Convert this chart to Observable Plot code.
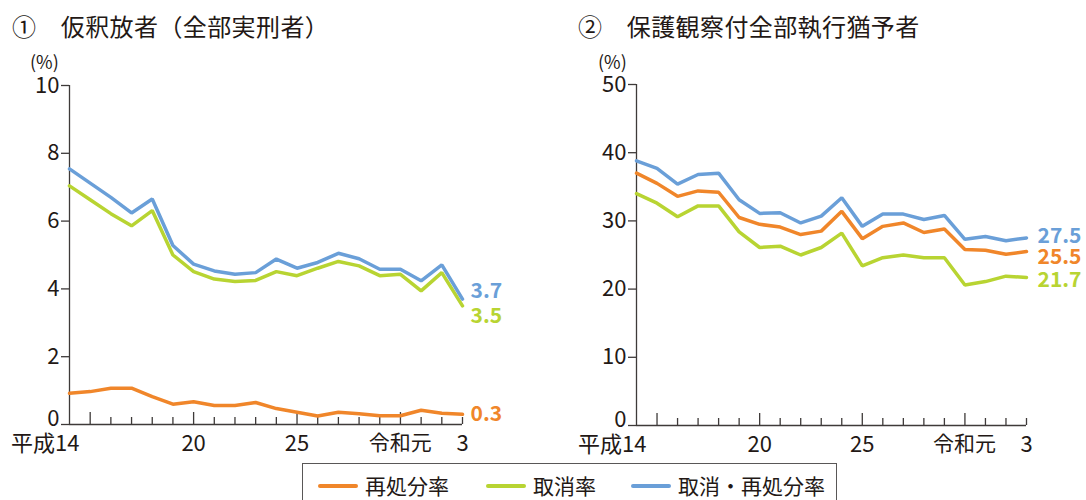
<!DOCTYPE html>
<html><head><meta charset="utf-8">
<script src="https://cdn.jsdelivr.net/npm/d3@7"></script>
<script src="https://cdn.jsdelivr.net/npm/@observablehq/plot@0.6"></script>
<style>
body{margin:0;width:1086px;height:500px;position:relative;overflow:hidden;background:#fff;font-family:'Noto Sans CJK JP','Noto Sans',sans-serif;color:#231815}
.panel{position:absolute;top:0}
.panel svg{overflow:visible}
.title{position:absolute;top:10px;font-size:24px;line-height:32px;white-space:pre;letter-spacing:0.4px}
.unit{position:absolute;top:52px;font-size:18px;line-height:18px}
.legend{position:absolute;left:302px;top:463px;width:535px;height:50px;border:1px solid #595757;box-sizing:border-box;font-size:21px}
.item{position:absolute;top:7px;line-height:28px;white-space:nowrap}
.sw{display:inline-block;width:40px;height:4px;vertical-align:middle;margin-right:7px;position:relative;top:-2px;border-radius:2px}
</style></head><body>
<div class="title" style="left:12px">①　仮釈放者（全部実刑者）</div>
<div class="title" style="left:578px">②　保護観察付全部執行猶予者</div>
<div class="unit" style="left:30px">(%)</div>
<div class="unit" style="left:598px">(%)</div>
<div id="p1" class="panel" style="left:0"></div>
<div id="p2" class="panel" style="left:543px"></div>
<div class="legend" id="legend"></div>
<script>
const years = [2002,2003,2004,2005,2006,2007,2008,2009,2010,2011,2012,2013,2014,2015,2016,2017,2018,2019,2020,2021];
const seriesNames = ["再処分率","取消率","取消・再処分率"];
const seriesColors = ["#f0862a","#b8d432","#6a9fd8"];

// ① 仮釈放者（全部実刑者）
const p1Resentence = [0.92,0.97,1.07,1.07,0.82,0.60,0.67,0.56,0.56,0.65,0.47,0.36,0.25,0.36,0.32,0.26,0.26,0.42,0.33,0.3];
const p1Revoke     = [7.04,6.63,6.22,5.86,6.31,5.00,4.51,4.29,4.22,4.25,4.51,4.39,4.61,4.81,4.68,4.39,4.43,3.94,4.48,3.5];
const p1Total      = [7.54,7.12,6.70,6.24,6.65,5.28,4.73,4.53,4.43,4.48,4.88,4.61,4.78,5.05,4.89,4.58,4.58,4.24,4.71,3.7];
const p1EndLabels  = ["0.3","3.5","3.7"];
const p1YTicks     = [0,2,4,6,8,10];

// ② 保護観察付全部執行猶予者
const p2Resentence = [37.0,35.5,33.6,34.4,34.2,30.5,29.5,29.1,28.0,28.5,31.4,27.4,29.2,29.7,28.3,28.8,25.8,25.7,25.1,25.5];
const p2Revoke     = [34.0,32.6,30.6,32.2,32.2,28.4,26.1,26.3,25.0,26.1,28.2,23.4,24.6,25.0,24.6,24.6,20.6,21.1,21.9,21.7];
const p2Total      = [38.8,37.7,35.4,36.8,37.0,33.1,31.1,31.2,29.7,30.7,33.4,29.2,31.0,31.0,30.2,30.8,27.3,27.7,27.1,27.5];
const p2EndLabels  = ["25.5","21.7","27.5"];
const p2YTicks     = [0,10,20,30,40,50];

// x-axis labels
const xLabelYears  = [2008,2013,2021];
const xLabelTexts  = ["20","25","3"];
const heiseiYear = 2002, heiseiLabel = "平成14";
const reiwaYear  = 2019, reiwaLabel  = "令和元";
const majorTickYears = [2003,2008,2013,2018];

const ink = "#231815", axisInk = "#3e3a39";
const font = "'Noto Sans CJK JP','Noto Sans',sans-serif";

function panel(vals, endLabels, endDx, endDy, yTicks, m) {
  const rows = [];
  years.forEach((yr, i) => seriesNames.forEach((s, j) => rows.push({year: yr, series: s, value: vals[j][i]})));
  const innerH = m.height - m.top - m.bottom;
  const minorYears = years.filter(y => y !== years[0] && !majorTickYears.includes(y));
  const last = years[years.length - 1];
  const endMarks = seriesNames.map((s, j) =>
    Plot.text([{year: last, value: vals[j][vals[j].length - 1], label: endLabels[j]}], {
      x: "year", y: "value", text: "label", dx: endDx, dy: endDy[j], textAnchor: "start",
      fill: seriesColors[j], fontSize: 21, fontWeight: "bold"
    }));
  return Plot.plot({
    width: 543, height: m.height,
    marginLeft: m.left, marginRight: m.right, marginTop: m.top, marginBottom: m.bottom,
    style: {fontFamily: font, color: ink, background: "transparent", overflow: "visible"},
    x: {domain: [years[0], last], axis: null},
    y: {domain: [yTicks[0], yTicks[yTicks.length - 1]], axis: null},
    color: {domain: seriesNames, range: seriesColors},
    marks: [
      Plot.ruleY([0], {stroke: axisInk, strokeWidth: 1.3}),
      Plot.ruleX([years[0]], {stroke: axisInk, strokeWidth: 1.3}),
      Plot.tickX(minorYears, {x: d => d, stroke: axisInk, strokeWidth: 1.3, insetTop: innerH - 7}),
      Plot.tickX(majorTickYears, {x: d => d, stroke: axisInk, strokeWidth: 1.3, insetTop: innerH - 12}),
      Plot.line(rows, {x: "year", y: "value", z: "series", stroke: "series", strokeWidth: 3.5, strokeLinejoin: "miter"}),
      ...endMarks,
      Plot.axisY({ticks: yTicks, label: null, tickSize: 8, tickPadding: 2, fontSize: 22, stroke: axisInk, strokeWidth: 1.3, fill: ink,
        tickFormat: d => d === 0 ? "" : String(d)}),
      Plot.text([yTicks[0]], {x: () => years[0], y: d => d, text: d => String(d), dx: -10, dy: -6, textAnchor: "end", fontSize: 22, fill: ink}),
      Plot.text(xLabelYears.map((y, i) => ({year: y, label: xLabelTexts[i]})), {x: "year", y: () => 0, text: "label", dy: 19, fontSize: 22, fill: ink}),
      Plot.text([{year: heiseiYear, label: heiseiLabel}], {x: "year", y: () => 0, text: "label", dy: 19, dx: 10, textAnchor: "end", fontSize: 22, fill: ink}),
      Plot.text([{year: reiwaYear, label: reiwaLabel}], {x: "year", y: () => 0, text: "label", dy: 19, dx: -21, fontSize: 21, fill: ink})
    ]
  });
}

document.getElementById("p1").append(panel([p1Resentence, p1Revoke, p1Total], p1EndLabels, 8, [0, 10, -8], p1YTicks,
  {height: 460, top: 85, bottom: 36, left: 69, right: 81}));
document.getElementById("p2").append(panel([p2Resentence, p2Revoke, p2Total], p2EndLabels, 11, [6, 3, -2], p2YTicks,
  {height: 460, top: 84, bottom: 35, left: 93, right: 60}));

const legendLefts = [15, 183, 328];
const lg = document.getElementById("legend");
seriesNames.forEach((s, j) => {
  const d = document.createElement("div");
  d.className = "item";
  d.style.left = legendLefts[j] + "px";
  d.innerHTML = `<span class="sw" style="background:${seriesColors[j]}"></span>${s}`;
  lg.append(d);
});
</script>
</body></html>
